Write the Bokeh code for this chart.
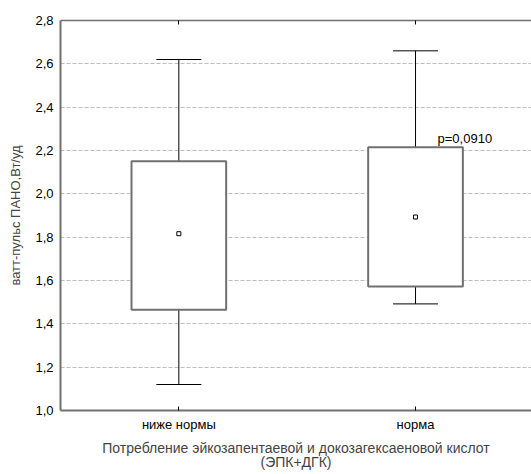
from bokeh.plotting import figure
from bokeh.models import FixedTicker, LinearAxis, Range1d
from bokeh.core.properties import value
from bokeh.embed import file_html
from bokeh.resources import INLINE

categories = ["ниже нормы", "норма"]
box_top = [2.15, 2.215]
box_bottom = [1.465, 1.572]
whisker_top = [2.62, 2.66]
whisker_bottom = [1.12, 1.492]
means = [1.816, 1.893]
p_label = "p=0,0910"
y_ticks = [1.0, 1.2, 1.4, 1.6, 1.8, 2.0, 2.2, 2.4, 2.6, 2.8]
y_tick_labels = ["1,0", "1,2", "1,4", "1,6", "1,8", "2,0", "2,2", "2,4", "2,6", "2,8"]

FONT = "Liberation Sans"
AX = "#707070"

xs = [i + 0.5 for i in range(len(categories))]

p = figure(width=531, height=474, output_backend="svg", toolbar_location=None,
           x_range=Range1d(0, 1.99), y_range=Range1d(1.0, 2.8),
           min_border_left=60, min_border_top=20, min_border_bottom=64,
           min_border_right=0, x_axis_location=None, y_axis_location=None)
p.outline_line_color = None
p.background_fill_color = "white"
p.border_fill_color = "white"

# axes
yax = LinearAxis(ticker=FixedTicker(ticks=y_ticks),
                 major_label_overrides=dict(zip(y_ticks, y_tick_labels)),
                 axis_label="ватт-пульс ПАНО,Вт/уд")
yax.major_tick_in = 0
yax.major_tick_out = 0
yax.minor_tick_line_color = None
yax.axis_line_color = AX
yax.axis_line_width = 2
yax.major_label_standoff = 7
yax.major_label_text_font = FONT
yax.major_label_text_font_size = "13px"
yax.major_label_text_color = "black"
yax.axis_label_text_font = FONT
yax.axis_label_text_font_size = "13px"
yax.axis_label_text_font_style = "normal"
yax.axis_label_standoff = 9
p.add_layout(yax, "left")

xax = LinearAxis(ticker=FixedTicker(ticks=xs),
                 major_label_overrides=dict(zip(xs, categories)),
                 axis_label="Потребление эйкозапентаевой и докозагексаеновой кислот\n(ЭПК+ДГК)")
xax.major_tick_in = 4
xax.major_tick_out = 0
xax.major_tick_line_color = "black"
xax.minor_tick_line_color = None
xax.axis_line_color = AX
xax.axis_line_width = 2
xax.major_label_standoff = 6
xax.major_label_text_font = FONT
xax.major_label_text_font_size = "13px"
xax.major_label_text_color = "black"
xax.axis_label_text_font = FONT
xax.axis_label_text_font_size = "14px"
xax.axis_label_text_font_style = "normal"
xax.axis_label_standoff = 5
xax.axis_label_text_line_height = 0.9
p.add_layout(xax, "below")

tax = LinearAxis(ticker=FixedTicker(ticks=xs), major_label_text_font_size="0px")
tax.major_label_text_color = None
tax.major_tick_in = 4
tax.major_tick_out = 0
tax.major_tick_line_color = "black"
tax.minor_tick_line_color = None
tax.axis_line_color = AX
tax.axis_line_width = 1.5
tax.major_label_standoff = 0
p.add_layout(tax, "above")

p.xgrid.grid_line_color = None
p.ygrid.ticker = FixedTicker(ticks=y_ticks)
p.ygrid.grid_line_color = "#bdbdbd"
p.ygrid.grid_line_dash = "4 2"
p.ygrid.grid_line_width = 1

# whiskers
p.segment(x0=xs, y0=box_top, x1=xs, y1=whisker_top, line_color="black", line_width=1)
p.segment(x0=xs, y0=box_bottom, x1=xs, y1=whisker_bottom, line_color="black", line_width=1)
cap = 0.095
p.segment(x0=[x - cap for x in xs], y0=whisker_top, x1=[x + cap for x in xs], y1=whisker_top,
          line_color="black", line_width=1)
p.segment(x0=[x - cap for x in xs], y0=whisker_bottom, x1=[x + cap for x in xs], y1=whisker_bottom,
          line_color="black", line_width=1)

# boxes
bw = 0.2
p.quad(left=[x - bw for x in xs], right=[x + bw for x in xs], top=box_top, bottom=box_bottom,
       fill_color="white", line_color=AX, line_width=2)

# means
p.scatter(x=xs, y=means, marker="square", size=4, fill_color="white",
          line_color="black", line_width=1)

# p value
p.text(x=[xs[1] + 0.093], y=[box_top[1]], text=[p_label], text_font=value(FONT),
       text_font_size="13px", text_baseline="bottom", text_align="left",
       text_color="black", y_offset=-1)

open("out.html", "w").write(file_html(p, INLINE))
